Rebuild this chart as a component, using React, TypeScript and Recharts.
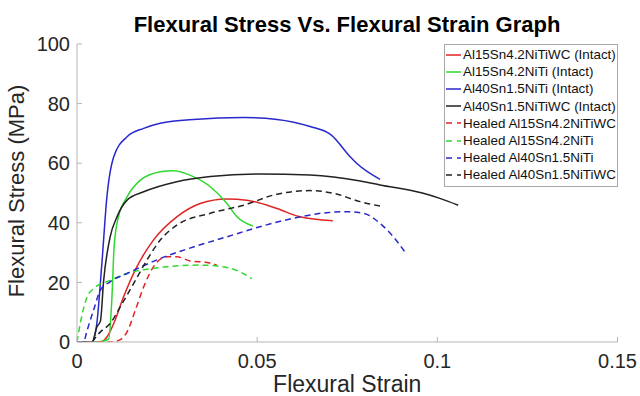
import { Line, LineChart, XAxis, YAxis } from "recharts";

const FONT = '"Liberation Sans", Arial, Helvetica, sans-serif';

const strainTicks = [0, 0.05, 0.1, 0.15];
const stressTicks = [0, 20, 40, 60, 80, 100];

// intact samples
const al15wcStrain = [0, 0.0065, 0.0083, 0.0102, 0.0129, 0.0166, 0.0212, 0.0277, 0.0342, 0.0416, 0.0471, 0.0555, 0.0619, 0.071];
const al15wcStress = [0, 0, 1.7, 6.2, 15.1, 25.2, 34.2, 42, 46.5, 48, 47.6, 44.8, 42, 40.7];

const al15Strain = [0, 0.006, 0.0088, 0.0097, 0.0103, 0.0115, 0.0139, 0.0176, 0.0231, 0.0268, 0.0323, 0.037, 0.0416, 0.0444, 0.0488];
const al15Stress = [0, 0, 1, 15.1, 31.9, 42, 48.7, 54.3, 57.1, 57.5, 55.5, 52.1, 46.5, 42, 38.9];

const al40Strain = [0, 0.0042, 0.0055, 0.0069, 0.0083, 0.0102, 0.0139, 0.0185, 0.0231, 0.0323, 0.0462, 0.0555, 0.0647, 0.0705, 0.0758, 0.0776, 0.0841];
const al40Stress = [0, 0, 6.2, 26.3, 48.7, 62.2, 68.9, 71.7, 73.4, 74.7, 75.3, 74.7, 72.3, 69.5, 62.2, 60, 54.6];

const al40wcStrain = [0, 0.0042, 0.0055, 0.0065, 0.0074, 0.0092, 0.0111, 0.0139, 0.0185, 0.0277, 0.037, 0.0508, 0.0647, 0.0786, 0.0841, 0.0961, 0.1007, 0.1058];
const al40wcStress = [0, 0, 5, 7, 20.7, 35.3, 42, 47.6, 50.4, 53.8, 55.5, 56.4, 56, 54, 52.7, 49.9, 48.2, 45.9];

// healed samples
const healedAl15wcStrain = [0.0028, 0.0095, 0.012, 0.0139, 0.0162, 0.0185, 0.0212, 0.025, 0.0277, 0.0314, 0.036, 0.0388];
const healedAl15wcStress = [0, 0, 0.8, 3.4, 10.7, 18.5, 25.2, 28.6, 28.6, 27.2, 26.7, 25.8];

const healedAl15Strain = [0, 0.0009, 0.0028, 0.0046, 0.0092, 0.0139, 0.0231, 0.0342, 0.0416, 0.0453, 0.0485];
const healedAl15Stress = [0, 6.2, 15.1, 17.9, 20.7, 23, 25, 25.8, 25, 23.5, 21.3];

const healedAl40Strain = [0, 0.0018, 0.0028, 0.0046, 0.0065, 0.0092, 0.0139, 0.0231, 0.0323, 0.0416, 0.0508, 0.06, 0.0693, 0.0749, 0.0795, 0.0841, 0.0878, 0.091];
const healedAl40Stress = [0, 0, 3.9, 10.7, 17.4, 20.2, 23, 28, 31.9, 35.3, 38.7, 41.5, 43.4, 43.7, 43.2, 39.8, 35.3, 30.2];

const healedAl40wcStrain = [0.0042, 0.0065, 0.0092, 0.012, 0.0157, 0.0194, 0.0231, 0.0277, 0.037, 0.0462, 0.0555, 0.0647, 0.0712, 0.0786, 0.0841];
const healedAl40wcStress = [0, 3.4, 6.2, 11.8, 19.6, 27.5, 34.2, 39.2, 43.2, 45.9, 49.6, 50.8, 49.9, 47.1, 45.6];

const toPoints = (strain: number[], stress: number[]) => strain.map((s, i) => ({ strain: s, stress: stress[i] }));

const series = [
  { name: "Al15Sn4.2NiTiWC (Intact)", color: "#e02424", dashed: false, data: toPoints(al15wcStrain, al15wcStress) },
  { name: "Al15Sn4.2NiTi (Intact)", color: "#2ed82e", dashed: false, data: toPoints(al15Strain, al15Stress) },
  { name: "Al40Sn1.5NiTi (Intact)", color: "#2828cc", dashed: false, data: toPoints(al40Strain, al40Stress) },
  { name: "Al40Sn1.5NiTiWC (Intact)", color: "#222222", dashed: false, data: toPoints(al40wcStrain, al40wcStress) },
  { name: "Healed Al15Sn4.2NiTiWC", color: "#e02424", dashed: true, data: toPoints(healedAl15wcStrain, healedAl15wcStress) },
  { name: "Healed Al15Sn4.2NiTi", color: "#2ed82e", dashed: true, data: toPoints(healedAl15Strain, healedAl15Stress) },
  { name: "Healed Al40Sn1.5NiTi", color: "#2828cc", dashed: true, data: toPoints(healedAl40Strain, healedAl40Stress) },
  { name: "Healed Al40Sn1.5NiTiWC", color: "#222222", dashed: true, data: toPoints(healedAl40wcStrain, healedAl40wcStress) },
];

function LegendBox() {
  return (
    <div style={{ position: "absolute", left: 444, top: 44, width: 172, border: "1px solid #a8a8a8", background: "#fff", padding: "1px 0 2px", fontFamily: FONT, fontSize: 13.4, color: "#111" }}>
      {series.map((s) => (
        <div key={s.name} style={{ display: "flex", alignItems: "center", height: 17.2, whiteSpace: "nowrap" }}>
          <svg width={18} height={10} style={{ flex: "none" }}>
            <line x1={1} y1={5} x2={16} y2={5} stroke={s.color} strokeWidth={1.5} strokeDasharray={s.dashed ? "6 5" : undefined} />
          </svg>
          <span>{s.name}</span>
        </div>
      ))}
    </div>
  );
}

function YTitle(props: any) {
  const vb = props.viewBox ?? { x: 0, y: 44, width: 77, height: 298 };
  const cy = vb.y + vb.height / 2 - 2;
  return (
    <text x={24} y={cy} textAnchor="middle" transform={`rotate(-90, 24, ${cy})`} fontSize={22} fontFamily={FONT} fill="#262626">
      Flexural Stress (MPa)
    </text>
  );
}

function XTitle(props: any) {
  const vb = props.viewBox ?? { x: 77, y: 342, width: 540, height: 54 };
  return (
    <text x={vb.x + vb.width / 2} y={392} textAnchor="middle" fontSize={23} fontFamily={FONT} fill="#262626">
      Flexural Strain
    </text>
  );
}

export default function App() {
  return (
    <div style={{ position: "absolute", left: 0, top: 0, width: 640, height: 396, background: "#fff" }}>
      <div style={{ position: "absolute", left: 77, width: 540, top: 14, textAlign: "center", fontFamily: FONT, fontWeight: "bold", fontSize: 22, lineHeight: "22px", color: "#000" }}>
        Flexural Stress Vs. Flexural Strain Graph
      </div>
      <LineChart width={640} height={396} margin={{ top: 44, right: 22.5, bottom: 0, left: 0 }}>
        <XAxis
          type="number"
          dataKey="strain"
          domain={[0, 0.15]}
          ticks={strainTicks}
          allowDataOverflow
          height={54}
          stroke="#b5b5b5"
          tickSize={-5}
          tickMargin={17}
          tick={{ fill: "#262626", fontSize: 20, fontFamily: FONT }}
          label={{ content: XTitle }}
        />
        <YAxis
          type="number"
          dataKey="stress"
          domain={[0, 100]}
          ticks={stressTicks}
          allowDataOverflow
          width={77}
          stroke="#b5b5b5"
          tickSize={-5}
          tickMargin={12}
          tick={{ fill: "#262626", fontSize: 20, fontFamily: FONT }}
          label={{ content: YTitle }}
        />
        {series.map((s) => (
          <Line
            key={s.name}
            data={s.data}
            dataKey="stress"
            name={s.name}
            type="monotone"
            stroke={s.color}
            strokeWidth={1.5}
            strokeDasharray={s.dashed ? "6 4" : undefined}
            dot={false}
            activeDot={false}
            isAnimationActive={false}
          />
        ))}
      </LineChart>
      <LegendBox />
    </div>
  );
}
